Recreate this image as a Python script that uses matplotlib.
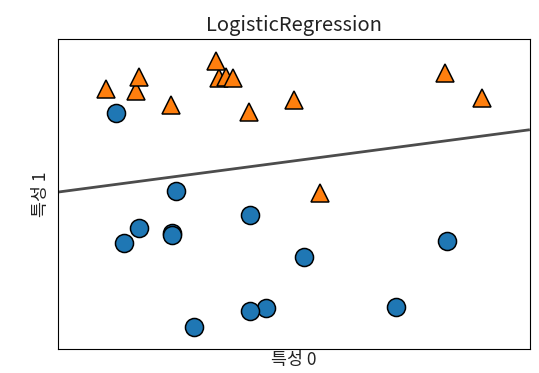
import numpy as np
import matplotlib
matplotlib.use("Agg")
import matplotlib.pyplot as plt

plt.rcParams['font.family'] = ['Noto Sans CJK KR', 'DejaVu Sans']

# forge dataset
feature0 = [9.96346605, 11.0329545, 11.54155807, 8.69289001, 8.1062269, 8.30988863,
            11.93027136, 9.67284681, 8.34810316, 8.67494727, 9.17748385, 10.24028948,
            8.68937095, 8.92229526, 9.49123469, 9.25694192, 7.99815287, 8.18378052,
            8.7337095, 9.32298256, 10.06393839, 9.50048972, 8.34468785, 9.50169345,
            9.15072323, 11.563957]
feature1 = [4.59676542, -0.16816717, 5.21116083, 1.54322016, 4.28695977, 4.80623966,
            4.64866327, -0.20283165, 5.13415623, 4.47573059, 5.09283177, 2.45544401,
            1.48709629, -0.63993225, 4.33224792, 5.13284858, 4.8525051, 1.29564214,
            2.49162431, 5.09840649, 0.99078055, -0.26430318, 1.63824349, 1.93824624,
            5.49832246, 1.3389402]
labels = [1, 0, 1, 0, 0, 1, 1, 0, 1, 1, 1, 1, 0, 0, 1, 1, 1, 0, 0, 1, 0, 0, 0, 0, 1, 0]

X = np.column_stack([feature0, feature1])
y = np.array(labels)

# logistic regression, C=1, liblinear-style (intercept penalized too), Newton steps
C = 1.0
A = np.column_stack([X, np.ones(len(X))])
beta = np.zeros(3)
R = np.eye(3)
for _ in range(100):
    p = 1 / (1 + np.exp(-A @ beta))
    grad = R @ beta + C * A.T @ (p - y)
    H = R + C * (A.T * (p * (1 - p))) @ A
    beta -= np.linalg.solve(H, grad)

eps = 0.5
x_min, x_max = X[:, 0].min() - eps, X[:, 0].max() + eps
y_min, y_max = X[:, 1].min() - eps, X[:, 1].max() + eps
xx = np.linspace(x_min, x_max, 1000)
yy = np.linspace(y_min, y_max, 1000)
X1, X2 = np.meshgrid(xx, yy)
dec = beta[0] * X1 + beta[1] * X2 + beta[2]

fig, ax = plt.subplots(figsize=(5.39, 3.73), dpi=100)
ax.contour(X1, X2, dec, levels=[0], colors="black", alpha=.7, linewidths=2)

colors = ['#1f77b4', '#ff7f0e']
markers = ['o', '^']
for cls in [0, 1]:
    m = y == cls
    ax.plot(X[m, 0], X[m, 1], markers[cls], color=colors[cls], markersize=13,
            markeredgecolor='k', markeredgewidth=1.1, linestyle='none')

ax.set_xlim(x_min, x_max)
ax.set_ylim(y_min, y_max)
ax.set_xticks(())
ax.set_yticks(())
ax.set_title("LogisticRegression", fontsize=14.5, color='#222222')
ax.set_xlabel("특성 0", fontsize=12.5, labelpad=1, color='#222222')
ax.set_ylabel("특성 1", fontsize=12.5, labelpad=6, color='#222222')
fig.subplots_adjust(left=0.108, right=0.983, top=0.895, bottom=0.064)
fig.savefig("out.png")
